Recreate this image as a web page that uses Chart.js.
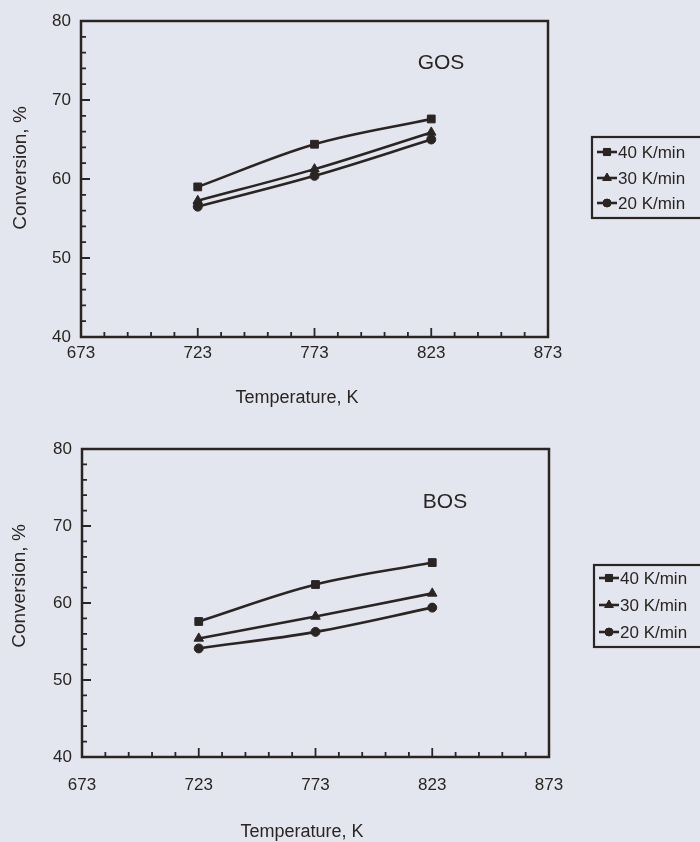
<!DOCTYPE html>
<html>
<head>
<meta charset="utf-8">
<script src="https://cdn.jsdelivr.net/npm/chart.js@4/dist/chart.umd.min.js"></script>
<style>
  html, body { margin: 0; padding: 0; background: #e4e6ef; }
  #wrap { position: relative; width: 700px; height: 842px; overflow: hidden; }
  canvas { position: absolute; left: 0; }
  #c1 { top: 0; }
  #c2 { top: 421px; }
</style>
</head>
<body>
<div id="wrap">
  <canvas id="c1" width="700" height="421"></canvas>
  <canvas id="c2" width="700" height="421"></canvas>
</div>
<script>
// ---- data ----
const temperatures = [723, 773, 823];
const seriesLabels = ['40 K/min', '30 K/min', '20 K/min'];
const gos40 = [59.0, 64.4, 67.6];
const gos30 = [57.25, 61.25, 65.9];
const gos20 = [56.5, 60.4, 65.0];
const bos40 = [57.6, 62.4, 65.25];
const bos30 = [55.4, 58.25, 61.25];
const bos20 = [54.1, 56.25, 59.4];
const xTickValues = [673, 723, 773, 823, 873];
const yTickValues = [40, 50, 60, 70, 80];
const xTitle = 'Temperature, K';
const yTitle = 'Conversion, %';

const INK = '#2a2522';
const FONT = "'Liberation Sans', Arial, sans-serif";
const styles = [
  { pointStyle: 'rect', radius: 5.5 },
  { pointStyle: 'triangle', radius: 5.5 },
  { pointStyle: 'circle', radius: 4.5 }
];

function makeDatasets(arrs) {
  return arrs.map((vals, i) => ({
    label: seriesLabels[i],
    data: temperatures.map((t, j) => ({ x: t, y: vals[j] })),
    borderColor: INK,
    backgroundColor: INK,
    borderWidth: 2.6,
    pointStyle: styles[i].pointStyle,
    pointRadius: styles[i].radius,
    pointHoverRadius: styles[i].radius,
    pointBorderWidth: 1,
    tension: 0.35
  }));
}

const framePlugin = {
  id: 'frameTicks',
  afterDraw(chart) {
    const { ctx, chartArea: a } = chart;
    const xs = chart.scales.x, ys = chart.scales.y;
    const o = chart.options.plugins.frameTicks;
    ctx.save();
    ctx.strokeStyle = INK;
    ctx.fillStyle = INK;
    ctx.lineWidth = 2.5;
    ctx.strokeRect(a.left, a.top, a.right - a.left, a.bottom - a.top);
    ctx.lineWidth = 1.8;
    ctx.beginPath();
    for (let v = ys.min; v <= ys.max + 1e-6; v += 2) {
      const y = ys.getPixelForValue(v);
      const len = (Math.round(v) % 10 === 0) ? 9 : 5;
      ctx.moveTo(a.left, y); ctx.lineTo(a.left + len, y);
    }
    for (let v = xs.min; v <= xs.max + 1e-6; v += 10) {
      const x = xs.getPixelForValue(v);
      const len = (Math.round(v - xs.min) % 50 === 0) ? 9 : 5;
      ctx.moveTo(x, a.bottom); ctx.lineTo(x, a.bottom - len);
    }
    ctx.stroke();
    // axis titles
    ctx.font = '18px ' + FONT;
    ctx.textAlign = 'center';
    ctx.textBaseline = 'middle';
    ctx.fillText(xTitle, o.xTitleX, o.xTitleY);
    ctx.save();
    ctx.translate(o.yTitleX, o.yTitleY);
    ctx.rotate(-Math.PI / 2);
    ctx.font = '19px ' + FONT;
    ctx.fillText(yTitle, 0, 0);
    ctx.restore();
    // inner label
    ctx.font = '21px ' + FONT;
    ctx.fillText(o.name, o.nameX, o.nameY);
    // legend
    const L = o.legend;
    ctx.lineWidth = 2.2;
    ctx.strokeRect(L.x, L.y, L.w, L.h);
    ctx.font = '17px ' + FONT;
    ctx.textAlign = 'left';
    chart.data.datasets.forEach((ds, i) => {
      const ry = L.rowY[i];
      ctx.lineWidth = 2.6;
      ctx.beginPath();
      ctx.moveTo(L.lineX0, ry); ctx.lineTo(L.lineX1, ry);
      ctx.stroke();
      ctx.lineWidth = 1;
      Chart.helpers.drawPoint(ctx, { pointStyle: ds.pointStyle, rotation: 0, radius: ds.pointRadius - 0.5, borderWidth: 1 }, (L.lineX0 + L.lineX1) / 2, ry);
      ctx.fill();
      ctx.fillText(ds.label, L.textX, ry + 1);
    });
    ctx.restore();
  }
};

function makeChart(id, arrs, cfg) {
  return new Chart(document.getElementById(id), {
    type: 'line',
    data: { datasets: makeDatasets(arrs) },
    plugins: [framePlugin],
    options: {
      responsive: false,
      animation: false,
      devicePixelRatio: 1,
      layout: { padding: { left: 0, right: 700 - cfg.right, top: cfg.top, bottom: 0 } },
      plugins: {
        legend: { display: false },
        tooltip: { enabled: false },
        frameTicks: cfg.extra
      },
      scales: {
        x: {
          type: 'linear', min: 673, max: 873,
          afterBuildTicks: s => { s.ticks = xTickValues.map(v => ({ value: v })); },
          afterFit: s => { s.height = 421 - cfg.bottom; },
          grid: { display: false, drawTicks: false },
          border: { display: false },
          ticks: { color: INK, font: { family: FONT, size: 17 }, padding: cfg.xPad, maxRotation: 0 },
          title: { display: false }
        },
        y: {
          type: 'linear', min: 40, max: 80,
          afterBuildTicks: s => { s.ticks = yTickValues.map(v => ({ value: v })); },
          afterFit: s => { s.width = cfg.left; },
          grid: { display: false, drawTicks: false },
          border: { display: false },
          ticks: { color: INK, font: { family: FONT, size: 17 }, padding: 10 },
          title: { display: false }
        }
      }
    }
  });
}

makeChart('c1', [gos40, gos30, gos20], {
  left: 81, right: 548, top: 21, bottom: 337, xPad: 6,
  extra: { name: 'GOS', nameX: 441, nameY: 63, xTitleX: 297, xTitleY: 398, yTitleX: 21, yTitleY: 168,
           legend: { x: 592, y: 137, w: 130, h: 81, rowY: [152, 178, 203], lineX0: 597, lineX1: 617, textX: 618 } }
});
makeChart('c2', [bos40, bos30, bos20], {
  left: 82, right: 549, top: 28, bottom: 336, xPad: 18,
  extra: { name: 'BOS', nameX: 445, nameY: 81, xTitleX: 302, xTitleY: 411, yTitleX: 20, yTitleY: 165,
           legend: { x: 594, y: 144, w: 130, h: 82, rowY: [157, 184, 211], lineX0: 599, lineX1: 619, textX: 620 } }
});
</script>
</body>
</html>
